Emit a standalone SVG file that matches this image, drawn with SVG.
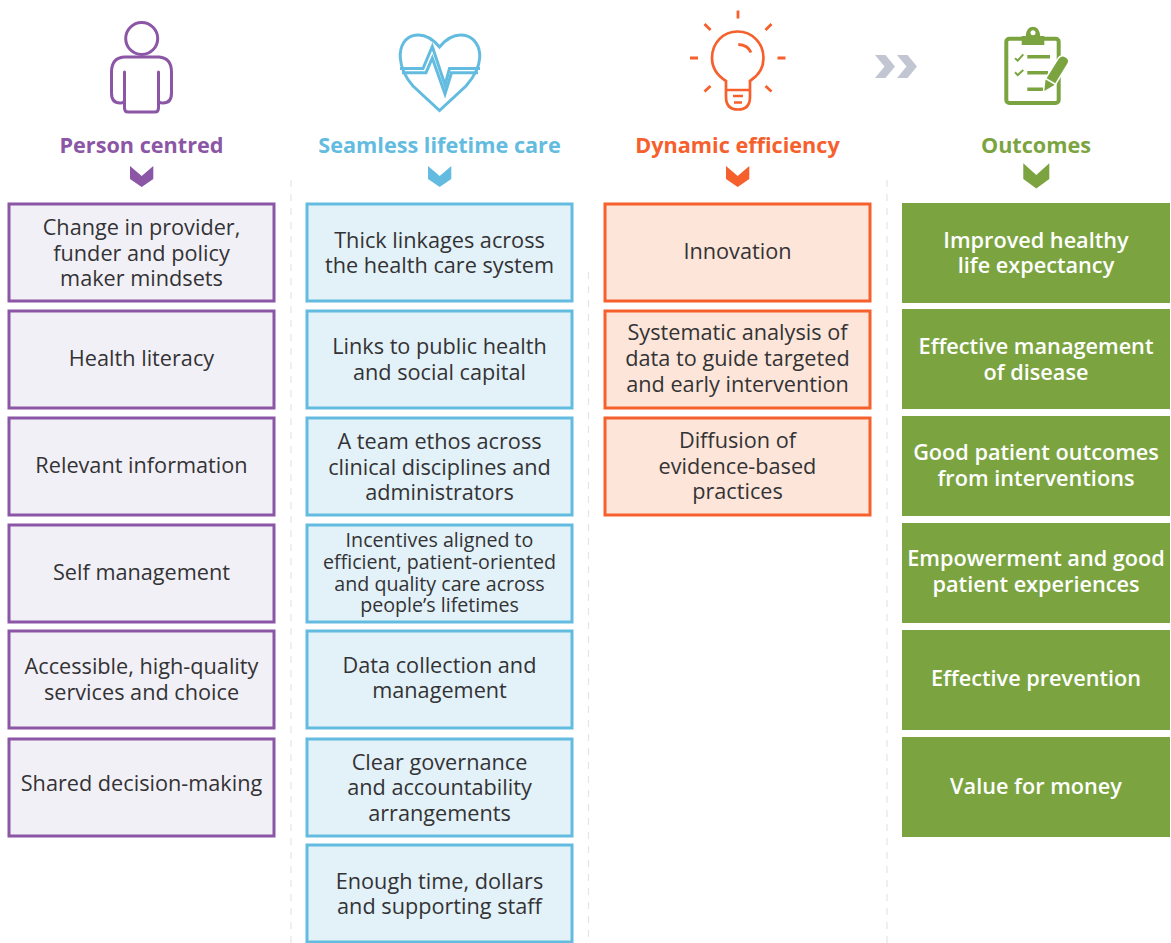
<svg xmlns="http://www.w3.org/2000/svg" width="1171" height="943" viewBox="0 0 1171 943">
<style>
text{font-family:"Open Sans","Liberation Sans",sans-serif;text-anchor:middle}
.t{font-size:21.68px;fill:#333335}
.s{font-size:19.65px;fill:#333335}
.w{font-size:21.68px;fill:#fff;font-weight:600}
.h{font-size:21.65px;font-weight:700}
.b{stroke-width:3px}
.p{fill:#f2f0f7;stroke:#8a56a5}
.c{fill:#e3f1f8;stroke:#63bcdf}
.o{fill:#fde5d9;stroke:#f6602d}
.g{fill:#7ba440;stroke:#7ba440}
.d{stroke:#e3e4ea;stroke-width:1.2;stroke-dasharray:7 7;fill:none}
</style>
<rect width="1171" height="943" fill="#fff"/>
<g id="dividers">
<line class="d" x1="291" y1="180" x2="291" y2="943"/>
<line class="d" x1="588.500" y1="272" x2="588.500" y2="943"/>
<line class="d" x1="887" y1="180" x2="887" y2="943"/>
</g>
<g id="icon-person" fill="none" stroke="#8a56a5" stroke-width="3" stroke-linecap="round" stroke-linejoin="round">
<circle cx="141.700" cy="38.500" r="16"/>
<path d="M124 57H159Q171.500 58 171.500 72V93Q171.500 103 163 103Q158.500 103 158.500 100V72V108Q158.500 112 155 112H128Q124.500 112 124.500 108V72V100Q124.500 103 120 103Q111.500 103 111.500 93V72Q111.500 58 124 57Z"/>
</g>
<g id="icon-heart" fill="none" stroke="#63bcdf" stroke-width="3">
<path d="M439.500 47C432 38 423 34 415 35.300C405 37 399.500 46 400.300 58C401 69 406 78 413 86L439.500 110.500L466 86C473 78 479 69 479.700 58C480.500 46 474 37 464 35.300C456 34 447 38 439.500 47Z"/>
<path d="M400 68.500H423L432.300 46.500L445 85L449.500 68.500H480"/>
<path d="M402 72.700H426L432.300 58L445 94L451.500 72.700H478"/>
</g>
<g id="icon-bulb" fill="none" stroke="#f6602d" stroke-width="2.700" stroke-linecap="butt">
<path d="M726 81V97Q726 109.500 738 109.500Q750 109.500 750 97V81C758 76 763.500 68 763.500 58C763.500 43 752 31.500 737.700 31.500C723 31.500 712 43 712 58C712 68 718 76 726 81Z"/>
<path d="M726 90H750M733 96H743M734 102.500H742"/>
<path d="M738 10.500V18.500M704.500 24L710.500 30M771.500 24L765.500 30M690 58H698M777.500 58H785.500M704.500 91.500L710.500 86M771.500 91.500L765.500 86M738.300 44.500Q748 45 751 52.500" stroke-width="2.800"/>
</g>
<g id="arrow-next" fill="#c1c6d2">
<path d="M875 55H885.500L895 66.500L885.500 78H875L884.500 66.500Z"/>
<path d="M897 55H907.500L917 66.500L907.500 78H897L906.500 66.500Z"/>
</g>
<g id="icon-clipboard">
<rect x="1006.300" y="38.700" width="52.400" height="64.300" rx="3" fill="none" stroke="#7ba440" stroke-width="4"/>
<path d="M1021.700 45V36H1025.800C1026 23.500 1040 23.500 1040.200 36H1044.300V45Z" fill="#7ba440"/>
<circle cx="1033" cy="32.800" r="2.500" fill="#fff"/>
<path d="M1027.300 56.700H1050M1027.300 72.700H1048M1027.300 89.300H1043" stroke="#7ba440" stroke-width="3.500"/>
<path d="M1015 58.300L1017.700 60.700L1023.300 54.300M1015 72.300L1017.700 75L1023.300 70" stroke="#7ba440" stroke-width="2" fill="none"/>
<path d="M1044.300 91L1045.500 80L1058.500 59.300Q1061 55 1065.500 57.500Q1069.500 60 1067.300 63.500L1054 85.300Z" fill="#7ba440" stroke="#fff" stroke-width="3" paint-order="stroke"/>
<path d="M1045.500 78.500L1055 84" stroke="#fff" stroke-width="1.500"/>
</g>
<g id="col-person">
<text class="h" x="141.500" y="153" fill="#8a56a5">Person centred</text>
<path d="M130 166L141.700 176L153.300 166V179L141.700 187L130 179Z" fill="#8a56a5"/>
<g id="p1"><rect class="b p" x="9" y="204" width="265" height="97"/><text class="t" x="141.500" y="235">Change in provider,</text><text class="t" x="141.500" y="261">funder and policy</text><text class="t" x="141.500" y="286">maker mindsets</text></g>
<g id="p2"><rect class="b p" x="9" y="311" width="265" height="97"/><text class="t" x="141.500" y="366">Health literacy</text></g>
<g id="p3"><rect class="b p" x="9" y="418" width="265" height="97"/><text class="t" x="141.500" y="473">Relevant information</text></g>
<g id="p4"><rect class="b p" x="9" y="525" width="265" height="97"/><text class="t" x="141.500" y="580">Self management</text></g>
<g id="p5"><rect class="b p" x="9" y="631" width="265" height="97"/><text class="t" x="141.500" y="674">Accessible, high-quality</text><text class="t" x="141.500" y="700">services and choice</text></g>
<g id="p6"><rect class="b p" x="9" y="739" width="265" height="97"/><text class="t" x="141.500" y="791">Shared decision-making</text></g>
</g>
<g id="col-care">
<text class="h" x="439.500" y="153" fill="#63bcdf">Seamless lifetime care</text>
<path d="M428 166L439.700 176L451.300 166V179L439.700 187L428 179Z" fill="#63bcdf"/>
<g id="c1"><rect class="b c" x="307" y="204" width="265" height="97"/><text class="t" x="439.500" y="248">Thick linkages across</text><text class="t" x="439.500" y="273">the health care system</text></g>
<g id="c2"><rect class="b c" x="307" y="311" width="265" height="97"/><text class="t" x="439.500" y="354">Links to public health</text><text class="t" x="439.500" y="380">and social capital</text></g>
<g id="c3"><rect class="b c" x="307" y="418" width="265" height="97"/><text class="t" x="439.500" y="449">A team ethos across</text><text class="t" x="439.500" y="475">clinical disciplines and</text><text class="t" x="439.500" y="500">administrators</text></g>
<g id="c4"><rect class="b c" x="307" y="525" width="265" height="97"/><text class="s" x="439.500" y="547">Incentives aligned to</text><text class="s" x="439.500" y="569">efficient, patient-oriented</text><text class="s" x="439.500" y="591">and quality care across</text><text class="s" x="439.500" y="612">people’s lifetimes</text></g>
<g id="c5"><rect class="b c" x="307" y="631" width="265" height="97"/><text class="t" x="439.500" y="673">Data collection and</text><text class="t" x="439.500" y="698">management</text></g>
<g id="c6"><rect class="b c" x="307" y="739" width="265" height="97"/><text class="t" x="439.500" y="770">Clear governance</text><text class="t" x="439.500" y="795">and accountability</text><text class="t" x="439.500" y="821">arrangements</text></g>
<g id="c7"><rect class="b c" x="307" y="845" width="265" height="97"/><text class="t" x="439.500" y="889">Enough time, dollars</text><text class="t" x="439.500" y="914">and supporting staff</text></g>
</g>
<g id="col-efficiency">
<text class="h" x="737.500" y="153" fill="#f6602d">Dynamic efficiency</text>
<path d="M726 166L737.700 176L749.300 166V179L737.700 187L726 179Z" fill="#f6602d"/>
<g id="e1"><rect class="b o" x="605" y="204" width="265" height="97"/><text class="t" x="737.500" y="259">Innovation</text></g>
<g id="e2"><rect class="b o" x="605" y="311" width="265" height="97"/><text class="t" x="737.500" y="340">Systematic analysis of</text><text class="t" x="737.500" y="366">data to guide targeted</text><text class="t" x="737.500" y="392">and early intervention</text></g>
<g id="e3"><rect class="b o" x="605" y="418" width="265" height="97"/><text class="t" x="737.500" y="448">Diffusion of</text><text class="t" x="737.500" y="474">evidence-based</text><text class="t" x="737.500" y="499">practices</text></g>
</g>
<g id="col-outcomes">
<text class="h" x="1036" y="153" fill="#7ba440">Outcomes</text>
<path d="M1023.300 163.300L1036.300 175L1049.300 163.300V179L1036.300 188.500L1023.300 179Z" fill="#7ba440"/>
<g id="g1"><rect class="g" x="902.500" y="203.500" width="267" height="99"/><text class="w" x="1036" y="248">Improved healthy</text><text class="w" x="1036" y="273">life expectancy</text></g>
<g id="g2"><rect class="g" x="902.500" y="309.500" width="267" height="99"/><text class="w" x="1036" y="354">Effective management</text><text class="w" x="1036" y="380">of disease</text></g>
<g id="g3"><rect class="g" x="902.500" y="416.500" width="267" height="99"/><text class="w" x="1036" y="460">Good patient outcomes</text><text class="w" x="1036" y="486">from interventions</text></g>
<g id="g4"><rect class="g" x="902.500" y="523.500" width="267" height="99"/><text class="w" x="1036" y="566">Empowerment and good</text><text class="w" x="1036" y="592">patient experiences</text></g>
<g id="g5"><rect class="g" x="902.500" y="630.500" width="267" height="99"/><text class="w" x="1036" y="686">Effective prevention</text></g>
<g id="g6"><rect class="g" x="902.500" y="737.500" width="267" height="99"/><text class="w" x="1036" y="794">Value for money</text></g>
</g>
</svg>
